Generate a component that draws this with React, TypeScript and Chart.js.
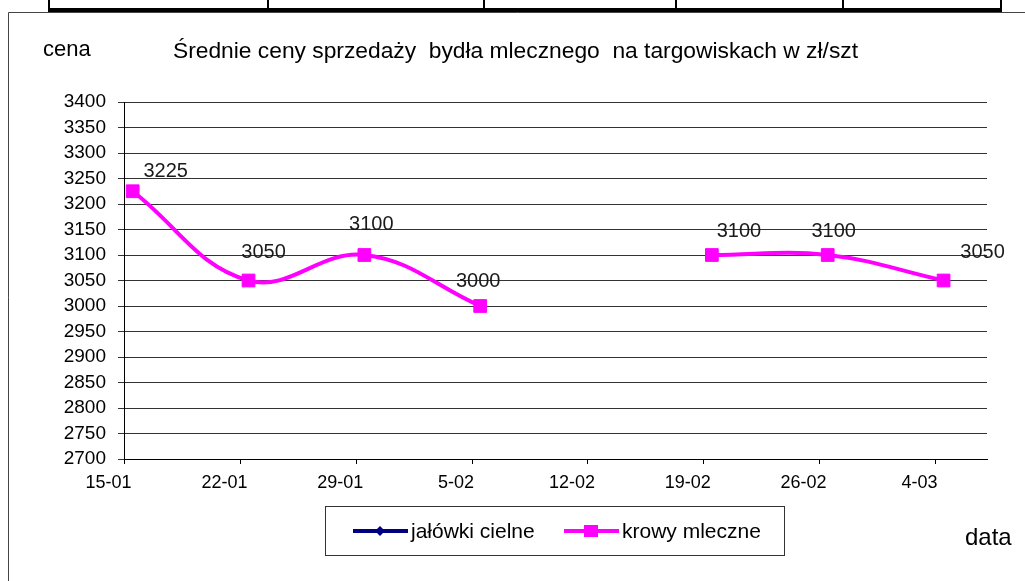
import React, { useEffect, useRef } from "react";
import { Chart, registerables } from "chart.js";

Chart.register(...registerables);

// ---- data ----
const categories: string[] = ["15-01", "22-01", "29-01", "5-02", "12-02", "19-02", "26-02", "4-03"];
const jalowkiCielne: (number | null)[] = [null, null, null, null, null, null, null, null];
const krowyMleczne: (number | null)[] = [3225, 3050, 3100, 3000, null, 3100, 3100, 3050];
const seriesNames: string[] = ["jałówki cielne", "krowy mleczne"];
const yMin = 2700;
const yMax = 3400;
const yStep = 50;
const titleText = "Średnie ceny sprzedaży  bydła mlecznego  na targowiskach w zł/szt";
const yAxisTitle = "cena";
const xAxisTitle = "data";

// label offsets (style only): [dx, dy] relative to the point
const labelOffsets: [number, number][] = [
  [33, -14], [15, -23], [7, -25], [-2, -19], [0, 0], [27, -18], [6, -18], [39, -23],
];

const FONT = "'Liberation Sans', Arial, sans-serif";

function fillSpaced(ctx: any, text: string, x: number, y: number, targetWidth: number) {
  ctx.letterSpacing = "0px";
  const w = ctx.measureText(text).width;
  const n = Array.from(text).length;
  const ls = n > 1 ? (targetWidth - w) / (n - 1) : 0;
  ctx.letterSpacing = `${ls}px`;
  ctx.fillText(text, x, y);
  ctx.letterSpacing = "0px";
}

const decorPlugin = {
  id: "decor",
  beforeDraw(chart: any) {
    const ctx = chart.ctx;
    ctx.save();
    ctx.fillStyle = "#ffffff";
    ctx.fillRect(0, 0, chart.width, chart.height);
    ctx.restore();
  },
  afterDraw(chart: any) {
    const ctx: any = chart.ctx;
    ctx.save();

    // table fragment at the top
    ctx.fillStyle = "#000";
    ctx.fillRect(48, 8, 954, 4);
    [48, 267, 483, 675, 842, 1000].forEach((x) => ctx.fillRect(x, 0, 2, 9));

    // chart frame
    ctx.strokeStyle = "#444";
    ctx.lineWidth = 1;
    ctx.beginPath();
    ctx.moveTo(8.5, chart.height + 2);
    ctx.lineTo(8.5, 12.5);
    ctx.lineTo(chart.width + 2, 12.5);
    ctx.stroke();

    // title & axis titles
    ctx.fillStyle = "#000";
    ctx.textBaseline = "alphabetic";
    ctx.textAlign = "left";
    ctx.font = `22.8px ${FONT}`;
    fillSpaced(ctx, titleText, 173, 58, 685);
    ctx.font = `22px ${FONT}`;
    ctx.fillText(yAxisTitle, 43, 56);
    ctx.font = `24px ${FONT}`;
    ctx.fillText(xAxisTitle, 965, 545);

    // data labels
    ctx.font = `20px ${FONT}`;
    ctx.textAlign = "center";
    ctx.fillStyle = "#1a1a1a";
    chart.data.datasets.forEach((ds: any, di: number) => {
      const meta = chart.getDatasetMeta(di);
      meta.data.forEach((el: any, i: number) => {
        const v = ds.data[i]?.y;
        if (v === null || v === undefined) return;
        const [dx, dy] = labelOffsets[i] || [0, -20];
        ctx.fillText(String(v), el.x + dx, el.y + dy);
      });
    });

    // legend box
    const bx = 325.5, by = 506.5, bw = 459, bh = 49;
    ctx.strokeStyle = "#333";
    ctx.lineWidth = 1;
    ctx.strokeRect(bx, by, bw, bh);
    const itemX = [353, 564];
    const cy = 531;
    ctx.textAlign = "left";
    ctx.textBaseline = "middle";
    ctx.font = `21px ${FONT}`;
    chart.data.datasets.forEach((ds: any, di: number) => {
      const x0 = itemX[di];
      ctx.strokeStyle = ds.borderColor;
      ctx.lineWidth = 4;
      ctx.beginPath();
      ctx.moveTo(x0, cy);
      ctx.lineTo(x0 + 55, cy);
      ctx.stroke();
      ctx.fillStyle = ds.borderColor;
      if (ds.pointStyle === "rectRot") {
        ctx.beginPath();
        ctx.moveTo(x0 + 27, cy - 5);
        ctx.lineTo(x0 + 32, cy);
        ctx.lineTo(x0 + 27, cy + 5);
        ctx.lineTo(x0 + 22, cy);
        ctx.closePath();
        ctx.fill();
      } else {
        ctx.fillRect(x0 + 20, cy - 6, 14, 12);
      }
      ctx.fillStyle = "#000";
      ctx.fillText(ds.label, x0 + 58, cy + 1);
    });

    ctx.restore();
  },
};

export default function App() {
  const canvasRef = useRef<HTMLCanvasElement | null>(null);

  useEffect(() => {
    const canvas = canvasRef.current;
    if (!canvas) return;
    const toPoints = (arr: (number | null)[]) => arr.map((v, i) => ({ x: i, y: v }));
    const chart = new Chart(canvas, {
      type: "line",
      data: {
        datasets: [
          {
            label: seriesNames[0],
            data: toPoints(jalowkiCielne) as any,
            borderColor: "#000080",
            backgroundColor: "#000080",
            borderWidth: 4,
            pointStyle: "rectRot",
            pointRadius: 5,
            spanGaps: false,
          },
          {
            label: seriesNames[1],
            data: toPoints(krowyMleczne) as any,
            borderColor: "#FF00FF",
            backgroundColor: "#FF00FF",
            borderWidth: 4,
            pointStyle: "rect",
            pointRadius: 9,
            pointBorderWidth: 1,
            tension: 0.4,
            spanGaps: false,
          },
        ],
      },
      options: {
        animation: false,
        responsive: false,
        devicePixelRatio: 1,
        layout: { padding: { top: 102, right: 38, bottom: 82, left: 0 } },
        plugins: {
          legend: { display: false },
          tooltip: { enabled: false },
          title: { display: false },
        },
        scales: {
          x: {
            type: "linear",
            min: -0.075,
            max: 7.375,
            afterBuildTicks: (scale: any) => {
              scale.ticks = categories.map((_, i) => ({ value: i - 0.07 }));
            },
            afterFit: (scale: any) => {
              scale.height = 40;
            },
            ticks: {
              autoSkip: false,
              maxRotation: 0,
              minRotation: 0,
              labelOffset: -16,
              padding: 8,
              color: "#000",
              font: { family: FONT, size: 18 },
              callback: (_v: any, index: number) => categories[index],
            },
            grid: {
              drawOnChartArea: false,
              drawTicks: true,
              tickLength: 5,
              color: "#000",
            },
            border: { display: true, color: "#000", width: 1 },
          },
          y: {
            type: "linear",
            min: yMin,
            max: yMax,
            afterFit: (scale: any) => {
              scale.width = 124;
            },
            ticks: {
              stepSize: yStep,
              autoSkip: false,
              maxTicksLimit: 100,
              padding: 12,
              color: "#000",
              font: { family: FONT, size: 19 },
              callback: (v: any) => String(v),
            },
            grid: {
              color: "#333",
              lineWidth: 1,
              drawTicks: true,
              tickLength: 6,
            },
            border: { display: true, color: "#000", width: 1 },
          },
        },
      },
      plugins: [decorPlugin],
    });
    return () => chart.destroy();
  }, []);

  return (
    <div style={{ position: "fixed", left: 0, top: 0, width: 1025, height: 581, background: "#fff" }}>
      <canvas ref={canvasRef} width={1025} height={581} style={{ display: "block" }} />
    </div>
  );
}
